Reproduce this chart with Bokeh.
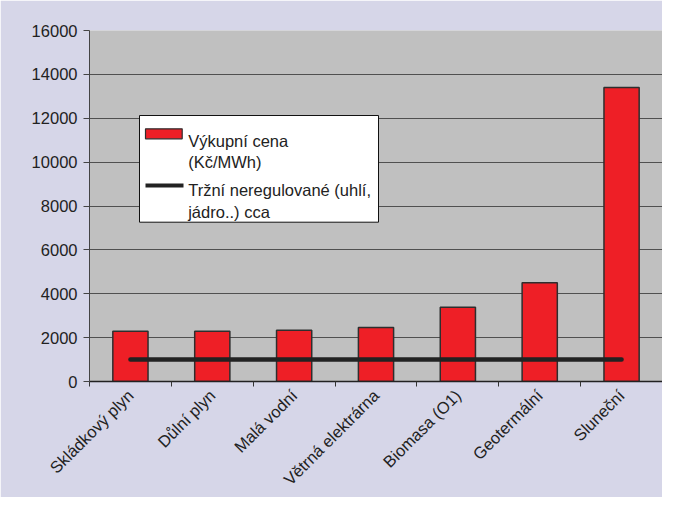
import math
from bokeh.plotting import figure
from bokeh.models import (ColumnDataSource, FixedTicker, BoxAnnotation, Label,
                          Range1d)
from bokeh.embed import file_html
from bokeh.resources import INLINE

categories = ["Skládkový plyn", "Důlní plyn", "Malá vodní", "Větrná elektrárna",
              "Biomasa (O1)", "Geotermální", "Sluneční"]
vykupni_cena = [2290, 2290, 2340, 2460, 3390, 4500, 13400]
trzni_cena = [1000, 1000, 1000, 1000, 1000, 1000, 1000]
y_ticks = [0, 2000, 4000, 6000, 8000, 10000, 12000, 14000, 16000]
legend_labels = [["Výkupní cena", "(Kč/MWh)"], ["Tržní neregulované (uhlí,", "jádro..) cca"]]

FONT = "Liberation Sans"
RED = "#ee1f26"
LAV = "#d6d6e8"

x_pos = [i + 0.5 for i in range(len(categories))]
src = ColumnDataSource(dict(x=x_pos, top=vykupni_cena, trzni=trzni_cena))

W, H = 662, 497
L, T, R, B = 89, 30, 0, 116
FW = W - L - R
FH = H - T - B
YMAX = 16000
NX = len(categories)


def px_x(page_x):
    """page pixel x -> data x"""
    return (page_x - L) * NX / FW


def px_y(page_y):
    """page pixel y -> data y"""
    return (FH - (page_y - T)) * YMAX / FH


p = figure(width=W, height=H, output_backend="svg", toolbar_location=None,
           x_range=Range1d(0, NX), y_range=Range1d(0, YMAX),
           min_border_left=L, min_border_top=T, min_border_right=R, min_border_bottom=B)
p.background_fill_color = "#c0c0c0"
p.border_fill_color = LAV
p.outline_line_color = None

p.vbar(x="x", top="top", width=0.43, source=src, fill_color=RED,
       line_color="#2e2e2e", line_width=1.5)
p.line(x="x", y="trzni", source=src, line_color="#222222", line_width=4.5,
       line_cap="round")

# axes
p.yaxis.ticker = FixedTicker(ticks=y_ticks)
p.yaxis.minor_tick_line_color = None
p.yaxis.major_tick_out = 6
p.yaxis.major_tick_in = 0
p.yaxis.major_label_standoff = 6
p.yaxis.axis_line_color = "#444444"
p.yaxis.major_tick_line_color = "#444444"

p.xaxis.ticker = FixedTicker(ticks=x_pos, minor_ticks=list(range(NX + 1)))
p.xaxis.major_label_overrides = {x: c for x, c in zip(x_pos, categories)}
p.xaxis.major_tick_out = 0
p.xaxis.major_tick_in = 0
p.xaxis.minor_tick_out = 5
p.xaxis.minor_tick_in = 0
p.xaxis.minor_tick_line_color = "#333333"
p.xaxis.axis_line_color = "#222222"
p.xaxis.axis_line_width = 1.5
p.xaxis.major_label_orientation = math.pi / 4
p.xaxis.major_label_standoff = 6

for ax in (p.xaxis, p.yaxis):
    ax.major_label_text_font = FONT
    ax.major_label_text_font_size = "16.5px"
    ax.major_label_text_color = "#222222"

p.xgrid.grid_line_color = None
p.ygrid.ticker = FixedTicker(ticks=y_ticks)
p.ygrid.grid_line_color = "#505050"
p.ygrid.grid_line_width = 1

# manual legend, placed at page pixel positions
p.add_layout(BoxAnnotation(left=px_x(139), right=px_x(378), top=px_y(115), bottom=px_y(221.7),
                           fill_color="white", fill_alpha=1, line_color="#111111",
                           line_width=1, line_alpha=1))
p.add_layout(BoxAnnotation(left=px_x(145), right=px_x(181.7), top=px_y(128.3), bottom=px_y(138.3),
                           fill_color=RED, fill_alpha=1, line_color="#2e2e2e",
                           line_width=1.2, line_alpha=1))
p.add_layout(BoxAnnotation(left=px_x(145), right=px_x(183), top=px_y(183), bottom=px_y(187),
                           fill_color="#222222", fill_alpha=1, line_color=None))
baselines = [[140.0, 161.7], [189.3, 211.7]]
for lines, ys in zip(legend_labels, baselines):
    for txt, yb in zip(lines, ys):
        p.add_layout(Label(x=px_x(187.7), y=px_y(yb), text=txt, text_font=FONT,
                           text_font_size="16.5px", text_color="#222222",
                           text_baseline="alphabetic", text_align="left"))

open("out.html", "w").write(file_html(p, INLINE))
